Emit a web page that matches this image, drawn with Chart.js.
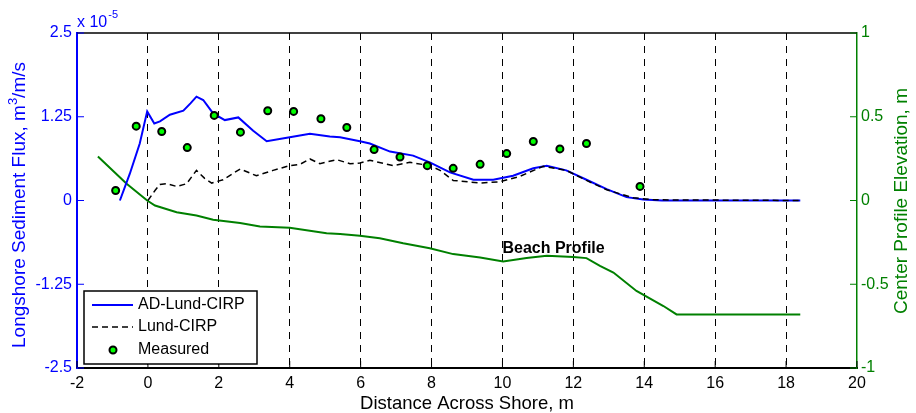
<!DOCTYPE html>
<html>
<head>
<meta charset="utf-8">
<script src="https://cdn.jsdelivr.net/npm/chart.js@4.4.1/dist/chart.umd.min.js"></script>
<style>
  body { margin: 0; background: #fff; }
  #wrap { width: 916px; height: 413px; position: relative; }
</style>
</head>
<body>
<div id="wrap"><canvas id="fluxChart"></canvas></div>
<script>
// flux values are in units of 1e-5 m^3/m/s (axis shows "x 10^-5")
const adX = [-0.79, -0.51, -0.23, -0.02, 0.18, 0.34, 0.62, 1.0, 1.2, 1.37, 1.56, 1.84, 2.17, 2.55, 2.97, 3.35, 4.0, 4.57, 5.13, 5.42, 5.98, 6.26, 6.83, 7.48, 7.95, 8.52, 9.18, 9.74, 10.3, 10.87, 11.25, 11.8, 12.37, 12.94, 13.5, 13.97, 14.5, 18.4];
const adFlux = [0, 0.40, 0.85, 1.33, 1.15, 1.18, 1.28, 1.34, 1.45, 1.55, 1.50, 1.30, 1.20, 1.24, 1.04, 0.885, 0.945, 0.995, 0.955, 0.945, 0.885, 0.85, 0.73, 0.67, 0.57, 0.42, 0.31, 0.31, 0.37, 0.48, 0.52, 0.45, 0.31, 0.17, 0.05, 0.015, 0, 0];

const lundX = [0, 0.2, 0.34, 0.53, 0.81, 1.09, 1.37, 1.6, 1.8, 2.12, 2.6, 3.06, 3.53, 4.0, 4.29, 4.57, 4.85, 5.32, 5.7, 5.98, 6.26, 6.92, 7.39, 7.95, 8.24, 8.61, 9.37, 9.93, 10.49, 11.15, 11.8, 12.37, 12.94, 13.69, 14.3, 18.4];
const lundFlux = [0, 0.15, 0.24, 0.25, 0.21, 0.25, 0.45, 0.33, 0.26, 0.31, 0.47, 0.37, 0.45, 0.52, 0.54, 0.62, 0.55, 0.61, 0.55, 0.56, 0.60, 0.52, 0.57, 0.52, 0.45, 0.30, 0.26, 0.28, 0.36, 0.51, 0.45, 0.30, 0.16, 0.04, 0.01, 0];

const measX = [-0.91, -0.33, 0.39, 1.11, 1.87, 2.61, 3.38, 4.11, 4.88, 5.61, 6.38, 7.11, 7.88, 8.61, 9.37, 10.12, 10.87, 11.62, 12.37, 13.88];
const measFlux = [0.15, 1.11, 1.03, 0.79, 1.27, 1.02, 1.34, 1.33, 1.22, 1.09, 0.76, 0.65, 0.52, 0.48, 0.54, 0.70, 0.88, 0.77, 0.85, 0.21];

// center profile elevation, m (right axis)
const profX = [-1.41, -0.6, -0.02, 0.2, 0.81, 1.37, 1.84, 2.6, 3.16, 4.0, 5.04, 5.42, 5.98, 6.54, 7.2, 7.95, 8.61, 9.37, 10.02, 10.68, 11.25, 12.0, 12.37, 12.75, 13.13, 13.78, 14.54, 14.91, 18.4];
const profElev = [0.263, 0.10, 0.0, -0.03, -0.07, -0.09, -0.115, -0.135, -0.155, -0.163, -0.195, -0.20, -0.21, -0.225, -0.255, -0.285, -0.32, -0.34, -0.364, -0.343, -0.33, -0.338, -0.344, -0.39, -0.43, -0.54, -0.63, -0.68, -0.68];

const fluxTicks = [-2.5, -1.25, 0, 1.25, 2.5];
const fluxTickLabels = ["-2.5", "-1.25", "0", "1.25", "2.5"];
const elevTicks = [-1, -0.5, 0, 0.5, 1];
const elevTickLabels = ["-1", "-0.5", "0", "0.5", "1"];

const seriesNames = ["AD-Lund-CIRP", "Lund-CIRP", "Measured"];

const BLUE = "#0000ff";
const GREEN = "#008000";
const FONT = "'Liberation Sans', Arial, Helvetica, sans-serif";
Chart.defaults.font.family = FONT;

function pts(xs, ys) {
  return xs.map((x, i) => ({ x: x, y: ys[i] }));
}

function drawLine(ctx, x1, y1, x2, y2) {
  ctx.beginPath();
  ctx.moveTo(x1, y1);
  ctx.lineTo(x2, y2);
  ctx.stroke();
}

// matlab-ish extras: box top, inward ticks, exponent, axis titles, note, legend
const extras = {
  id: "extras",
  afterDraw(chart) {
    const ctx = chart.ctx;
    const area = chart.chartArea;
    const xs = chart.scales.x, ys = chart.scales.y, y2 = chart.scales.y2;
    ctx.save();

    ctx.strokeStyle = "#000";
    ctx.lineWidth = 1.5;
    drawLine(ctx, area.left, area.top, area.right, area.top);

    ctx.lineWidth = 1;
    xs.ticks.forEach(t => {
      const px = xs.getPixelForValue(t.value);
      drawLine(ctx, px, area.bottom, px, area.bottom - 7);
    });
    ctx.strokeStyle = BLUE;
    ys.ticks.forEach(t => {
      const py = ys.getPixelForValue(t.value);
      drawLine(ctx, area.left, py, area.left + 7, py);
    });
    ctx.strokeStyle = GREEN;
    y2.ticks.forEach(t => {
      const py = y2.getPixelForValue(t.value);
      drawLine(ctx, area.right, py, area.right - 7, py);
    });

    // x 10^-5
    ctx.fillStyle = BLUE;
    ctx.textAlign = "left";
    ctx.textBaseline = "alphabetic";
    ctx.font = "16px " + FONT;
    ctx.fillText("x 10", area.left, area.top - 6);
    const w = ctx.measureText("x 10").width;
    ctx.font = "11px " + FONT;
    ctx.fillText("-5", area.left + w + 1, area.top - 15);

    // left axis title with superscript 3
    ctx.save();
    ctx.translate(25, 205);
    ctx.rotate(-Math.PI / 2);
    ctx.fillStyle = BLUE;
    ctx.textBaseline = "alphabetic";
    ctx.textAlign = "left";
    const partA = "Longshore Sediment Flux, m", partB = "/m/s";
    ctx.font = "19px " + FONT;
    const wa = ctx.measureText(partA).width, wb = ctx.measureText(partB).width;
    ctx.font = "13px " + FONT;
    const ws = ctx.measureText("3").width;
    let tx = -(wa + ws + wb) / 2;
    ctx.font = "19px " + FONT;
    ctx.fillText(partA, tx, 0);
    ctx.font = "13px " + FONT;
    ctx.fillText("3", tx + wa, -8);
    ctx.font = "19px " + FONT;
    ctx.fillText(partB, tx + wa + ws, 0);
    ctx.restore();

    // right axis title, reading bottom to top
    ctx.save();
    ctx.fillStyle = GREEN;
    ctx.font = "19px " + FONT;
    ctx.translate(902, 201);
    ctx.rotate(-Math.PI / 2);
    ctx.textAlign = "center";
    ctx.textBaseline = "middle";
    ctx.fillText("Center Profile Elevation, m", 0, 0);
    ctx.restore();

    // profile label
    ctx.fillStyle = "#000";
    ctx.font = "bold 16px " + FONT;
    ctx.textAlign = "left";
    ctx.textBaseline = "middle";
    ctx.fillText("Beach Profile", xs.getPixelForValue(10), y2.getPixelForValue(-0.29));

    // legend box
    const lx = 84, ly = 291, lw = 173, lh = 73;
    ctx.fillStyle = "#fff";
    ctx.fillRect(lx, ly, lw, lh);
    ctx.strokeStyle = "#000";
    ctx.lineWidth = 1.5;
    ctx.strokeRect(lx, ly, lw, lh);
    const rowY = [ly + 14, ly + 36, ly + 59];
    ctx.lineWidth = 2;
    ctx.strokeStyle = BLUE;
    drawLine(ctx, lx + 8, rowY[0], lx + 49, rowY[0]);
    ctx.lineWidth = 1.5;
    ctx.strokeStyle = "#000";
    ctx.setLineDash([6, 4]);
    drawLine(ctx, lx + 8, rowY[1], lx + 49, rowY[1]);
    ctx.setLineDash([]);
    ctx.beginPath();
    ctx.arc(lx + 29, rowY[2], 3.5, 0, Math.PI * 2);
    ctx.fillStyle = "#00ff00";
    ctx.fill();
    ctx.lineWidth = 2;
    ctx.stroke();
    ctx.fillStyle = "#000";
    ctx.font = "16px " + FONT;
    seriesNames.forEach((n, i) => ctx.fillText(n, lx + 54, rowY[i]));

    ctx.restore();
  }
};

new Chart(document.getElementById("fluxChart"), {
  type: "line",
  data: {
    datasets: [
      {
        label: "Measured",
        data: pts(measX, measFlux),
        yAxisID: "y",
        showLine: false,
        pointRadius: 3.5,
        pointBorderWidth: 2,
        pointBackgroundColor: "#00ff00",
        pointBorderColor: "#000"
      },
      {
        label: "Lund-CIRP",
        data: pts(lundX, lundFlux),
        yAxisID: "y",
        borderColor: "#000",
        borderWidth: 1.5,
        borderDash: [6, 4],
        pointRadius: 0,
        fill: false
      },
      {
        label: "AD-Lund-CIRP",
        data: pts(adX, adFlux),
        yAxisID: "y",
        borderColor: BLUE,
        borderWidth: 2,
        pointRadius: 0,
        fill: false
      },
      {
        label: "Beach Profile",
        data: pts(profX, profElev),
        yAxisID: "y2",
        borderColor: GREEN,
        borderWidth: 2,
        pointRadius: 0,
        fill: false
      }
    ]
  },
  options: {
    responsive: true,
    maintainAspectRatio: false,
    animation: false,
    layout: { padding: { top: 33, left: 0, right: 0, bottom: 0 } },
    plugins: {
      legend: { display: false },
      tooltip: { enabled: false }
    },
    scales: {
      x: {
        type: "linear",
        position: "bottom",
        min: -2,
        max: 20,
        afterFit: s => { s.height = 45; },
        ticks: { stepSize: 2, color: "#000", font: { size: 16 }, padding: 6 },
        grid: {
          drawTicks: false,
          lineWidth: 1,
          color: c => (c.tick && (c.tick.value === -2 || c.tick.value === 20)) ? "rgba(0,0,0,0)" : "#000"
        },
        border: { color: "#000", width: 2, dash: [7, 6] },
        title: {
          display: true,
          text: "Distance Across Shore, m",
          color: "#000",
          font: { size: 18.5, lineHeight: 1 },
          padding: { top: 0, bottom: 0 }
        }
      },
      y: {
        position: "left",
        min: -2.5,
        max: 2.5,
        afterFit: s => { s.width = 77; },
        afterBuildTicks: s => { s.ticks = fluxTicks.map(v => ({ value: v })); },
        ticks: {
          color: BLUE,
          font: { size: 16 },
          padding: 5,
          callback: (v, i) => fluxTickLabels[i]
        },
        grid: { display: false, drawTicks: false },
        border: { color: BLUE, width: 2 },
        title: { display: false }
      },
      y2: {
        position: "right",
        min: -1,
        max: 1,
        afterFit: s => { s.width = 59; },
        afterBuildTicks: s => { s.ticks = elevTicks.map(v => ({ value: v })); },
        ticks: {
          color: GREEN,
          font: { size: 16 },
          padding: 4,
          callback: (v, i) => elevTickLabels[i]
        },
        grid: { display: false, drawTicks: false },
        border: { color: GREEN, width: 1.5 }
      }
    }
  },
  plugins: [extras]
});
</script>
</body>
</html>
